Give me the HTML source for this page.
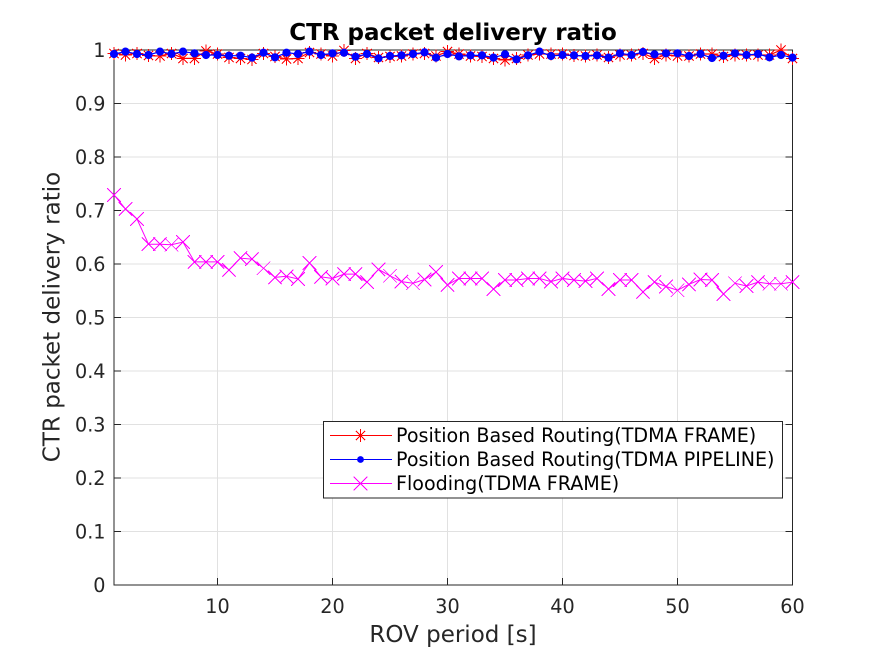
<!DOCTYPE html>
<html lang="en">
<head>
<meta charset="utf-8">
<title>CTR packet delivery ratio</title>
<style>
html,body{margin:0;padding:0;background:#fff;width:875px;height:656px;overflow:hidden}
svg{display:block}
text{font-family:"DejaVu Sans","Liberation Sans",sans-serif;fill:#262626}
</style>
</head>
<body>
<svg id="chart" xmlns="http://www.w3.org/2000/svg" width="875" height="656" viewBox="0 0 875 656"></svg>
<script>
const xTicks = [10, 20, 30, 40, 50, 60];
const yTicks = [0, 0.1, 0.2, 0.3, 0.4, 0.5, 0.6, 0.7, 0.8, 0.9, 1];
const yTickLabels = ['0', '0.1', '0.2', '0.3', '0.4', '0.5', '0.6', '0.7', '0.8', '0.9', '1'];
const periods = [1,2,3,4,5,6,7,8,9,10,11,12,13,14,15,16,17,18,19,20,21,22,23,24,25,26,27,28,29,30,31,32,33,34,35,36,37,38,39,40,41,42,43,44,45,46,47,48,49,50,51,52,53,54,55,56,57,58,59,60];
const redFrame = [0.9938,0.9907,0.9938,0.9894,0.9888,0.9938,0.9844,0.9844,0.9981,0.9925,0.9857,0.9844,0.9826,0.9938,0.9875,0.9832,0.9844,0.9956,0.9925,0.9888,0.9988,0.9844,0.9938,0.9857,0.9875,0.9888,0.9925,0.9938,0.9888,0.9969,0.9925,0.9888,0.9875,0.9844,0.9813,0.9844,0.9907,0.9925,0.9925,0.9925,0.9894,0.9888,0.9907,0.9863,0.9907,0.9907,0.9938,0.9844,0.9907,0.9888,0.9888,0.9925,0.9925,0.9875,0.9907,0.9907,0.9907,0.9907,1,0.9844];
const bluePipeline = [0.9925,0.9969,0.9925,0.9907,0.9969,0.9925,0.9969,0.9938,0.9907,0.9907,0.9894,0.9894,0.9857,0.9950,0.9863,0.9950,0.9925,0.9969,0.9907,0.9938,0.9950,0.9875,0.9925,0.9844,0.9888,0.9900,0.9925,0.9956,0.9857,0.9925,0.9882,0.9900,0.9900,0.9857,0.9919,0.9826,0.9900,0.9969,0.9888,0.9907,0.9900,0.9888,0.9900,0.9857,0.9938,0.9907,0.9963,0.9919,0.9938,0.9938,0.9888,0.9925,0.9850,0.9894,0.9938,0.9907,0.9925,0.9863,0.9907,0.9857];
const magentaFlooding = [0.729,0.703,0.684,0.637,0.637,0.636,0.641,0.604,0.604,0.604,0.589,0.611,0.609,0.592,0.575,0.577,0.572,0.602,0.576,0.573,0.581,0.581,0.566,0.590,0.578,0.567,0.564,0.571,0.585,0.561,0.573,0.573,0.573,0.553,0.570,0.570,0.573,0.573,0.567,0.573,0.570,0.568,0.573,0.553,0.570,0.570,0.548,0.566,0.558,0.551,0.562,0.571,0.570,0.544,0.564,0.559,0.566,0.563,0.563,0.566];

const plotLeft = 114, plotRight = 792.5, plotTop = 50, plotBottom = 585;
const AXIS = '#262626', GRID = '#e1e1e1';
const NS = 'http://www.w3.org/2000/svg';
const svg = document.getElementById('chart');

function xScale(v) { return plotLeft + (v - 1) / (60 - 1) * (plotRight - plotLeft); }
function yScale(v) { return plotBottom - v * (plotBottom - plotTop); }

function make(tag, parent, props) {
  const el = document.createElementNS(NS, tag);
  for (const k in props) el.setAttribute(k, props[k]);
  parent.appendChild(el);
  return el;
}
function seg(parent, x1, y1, x2, y2, stroke, w) {
  return make('line', parent, {x1: x1, y1: y1, x2: x2, y2: y2, stroke: stroke, 'stroke-width': w});
}
function drawStar(parent, cx, cy) {
  const r = 6.5, d = 4.6;
  seg(parent, cx - r, cy, cx + r, cy, '#ff0000', 1);
  seg(parent, cx, cy - r, cx, cy + r, '#ff0000', 1);
  seg(parent, cx - d, cy - d, cx + d, cy + d, '#ff0000', 1);
  seg(parent, cx - d, cy + d, cx + d, cy - d, '#ff0000', 1);
}
function drawCross(parent, cx, cy) {
  const d = 6.8;
  seg(parent, cx - d, cy - d, cx + d, cy + d, '#ff00ff', 1);
  seg(parent, cx - d, cy + d, cx + d, cy - d, '#ff00ff', 1);
}

const bg = make('rect', svg, {x: plotLeft, y: plotTop, width: plotRight - plotLeft, height: plotBottom - plotTop, fill: '#fff'});



const grid = make('g', svg, {'shape-rendering': 'crispEdges'});


xTicks.forEach(function (t) {
  const gl = seg(grid, xScale(t), plotTop, xScale(t), plotBottom, GRID, 1);
  
  
});
yTicks.forEach(function (t) {
  const gl = seg(grid, plotLeft, yScale(t), plotRight, yScale(t), GRID, 1);
  
  
});

const axes = make('g', svg, {'shape-rendering': 'crispEdges'});


make('rect', axes, {x: plotLeft, y: plotTop, width: plotRight - plotLeft, height: plotBottom - plotTop, fill: 'none', stroke: AXIS, 'stroke-width': 1});

xTicks.forEach(function (t) {
  const x = xScale(t);
  const tickA = seg(axes, x, plotBottom, x, plotBottom - 7, AXIS, 1);
  
  
  const tickB = seg(axes, x, plotTop, x, plotTop + 7, AXIS, 1);
  
  
  const label = make('text', svg, {x: x, y: 613, 'text-anchor': 'middle', 'font-size': 19.2});
  label.textContent = String(t);
  
  
});
yTicks.forEach(function (t, i) {
  const y = yScale(t);
  const tickA = seg(axes, plotLeft, y, plotLeft + 7, y, AXIS, 1);
  
  
  const tickB = seg(axes, plotRight, y, plotRight - 7, y, AXIS, 1);
  
  
  const label = make('text', svg, {x: 105.5, y: y + 7, 'text-anchor': 'end', 'font-size': 19.2});
  label.textContent = yTickLabels[i];
  
  
});

function toPoints(vals) {
  return vals.map(function (v, i) { return xScale(periods[i]) + ',' + yScale(v); }).join(' ');
}

const redGroup = make('g', svg, {});


make('polyline', redGroup, {points: toPoints(redFrame), fill: 'none', stroke: '#ff0000', 'stroke-width': 1.2});
redFrame.forEach(function (v, i) {
  const m = make('g', redGroup, {'shape-rendering': 'crispEdges'});
  
  
  drawStar(m, xScale(periods[i]), yScale(v));
});

const blueGroup = make('g', svg, {});


make('polyline', blueGroup, {points: toPoints(bluePipeline), fill: 'none', stroke: '#0000ff', 'stroke-width': 1.2});
bluePipeline.forEach(function (v, i) {
  const m = make('circle', blueGroup, {cx: xScale(periods[i]), cy: yScale(v), r: 4.1, fill: '#0000ff'});
  
  
});

const magentaGroup = make('g', svg, {});


make('polyline', magentaGroup, {points: toPoints(magentaFlooding), fill: 'none', stroke: '#ff00ff', 'stroke-width': 1});
magentaFlooding.forEach(function (v, i) {
  const m = make('g', magentaGroup, {'shape-rendering': 'crispEdges'});
  
  
  drawCross(m, xScale(periods[i]), yScale(v));
});

const title = make('text', svg, {x: 453, y: 40, 'text-anchor': 'middle', 'font-size': 23, 'font-weight': 'bold', style: 'fill:#000'});
title.textContent = 'CTR packet delivery ratio';



const xTitle = make('text', svg, {x: 453, y: 642, 'text-anchor': 'middle', 'font-size': 23});
xTitle.textContent = 'ROV period [s]';



const yTitle = make('text', svg, {x: 0, y: 0, 'text-anchor': 'middle', 'font-size': 23, transform: 'translate(59.5,317) rotate(-90)'});
yTitle.textContent = 'CTR packet delivery ratio';



const legend = make('g', svg, {});


make('rect', legend, {x: 323.5, y: 421.5, width: 459, height: 76.5, fill: '#fff', stroke: AXIS, 'stroke-width': 1, 'shape-rendering': 'crispEdges'});

const rowR = make('g', legend, {'shape-rendering': 'crispEdges'});


seg(rowR, 330, 435.5, 392, 435.5, '#ff0000', 1);
drawStar(rowR, 360.5, 435.5);
const textR = make('text', rowR, {x: 396, y: 442, 'font-size': 19.1, style: 'fill:#000'});
textR.textContent = 'Position Based Routing(TDMA FRAME)';

const rowB = make('g', legend, {'shape-rendering': 'crispEdges'});


seg(rowB, 330, 459.5, 392, 459.5, '#0000ff', 1);
make('circle', rowB, {cx: 360.5, cy: 459.5, r: 3.4, fill: '#0000ff', 'shape-rendering': 'auto'});
const textB = make('text', rowB, {x: 396, y: 466, 'font-size': 19.1, style: 'fill:#000'});
textB.textContent = 'Position Based Routing(TDMA PIPELINE)';

const rowM = make('g', legend, {'shape-rendering': 'crispEdges'});


seg(rowM, 330, 483.5, 392, 483.5, '#ff00ff', 1);
drawCross(rowM, 360.5, 483.5);
const textM = make('text', rowM, {x: 396, y: 490, 'font-size': 19.1, style: 'fill:#000'});
textM.textContent = 'Flooding(TDMA FRAME)';
</script>
</body>
</html>
